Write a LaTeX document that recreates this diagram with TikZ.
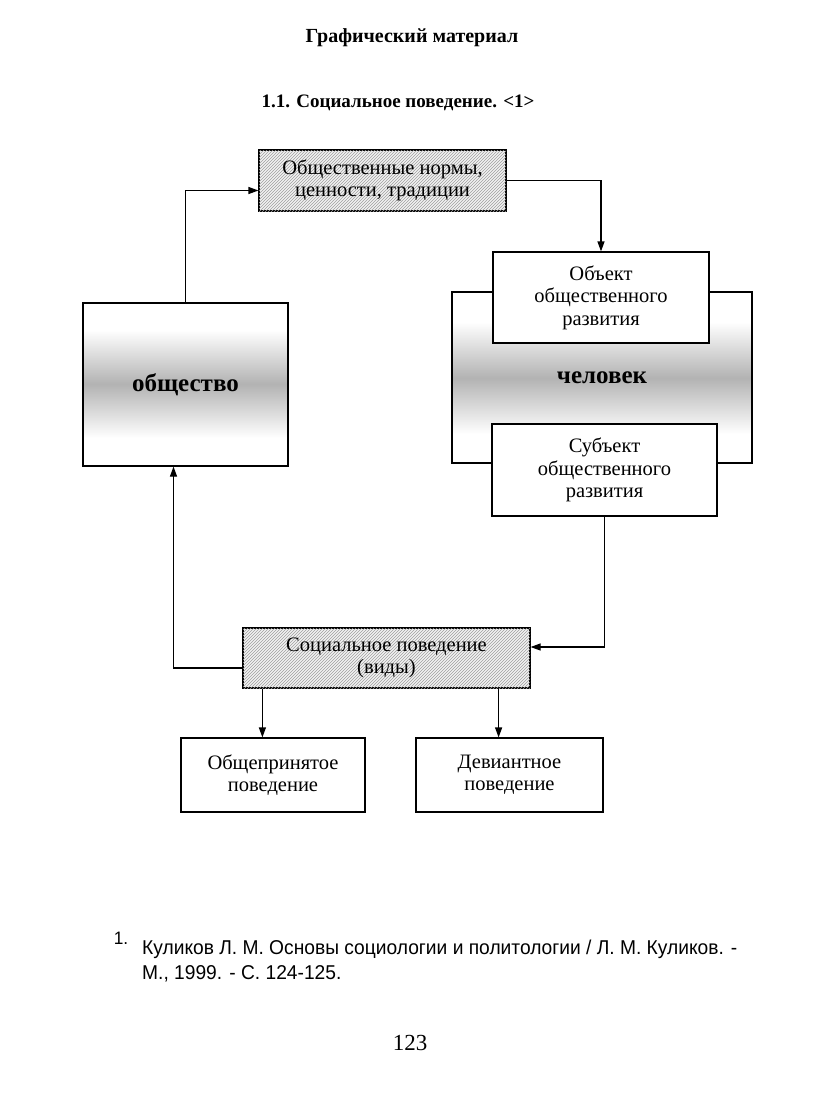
\documentclass[tikz,border=0pt]{standalone}
\usepackage{fontspec}
\setmainfont{Liberation Serif}
\newfontfamily\notefont[FakeStretch=0.96]{Liberation Sans}
\usetikzlibrary{arrows.meta,patterns,positioning}

\tikzset{
  blk/.style={draw, line width=1.2pt, fill=white, align=center, inner sep=0pt,
    font=\fontsize{20.5}{22.5}\selectfont},
  hatchbox/.style={blk, fill=gray!10, postaction={pattern=north east lines, pattern color=gray!75}},
  bigbox/.style={draw, line width=1.2pt, inner sep=0pt, font=\fontsize{25}{28}\selectfont\bfseries},
  band/.style={top color=white, bottom color=white, middle color=gray!60},
  conn/.style={-{Triangle[length=10pt,width=7pt]}, line width=1.2pt},
  heading/.style={font=\fontsize{20}{24}\selectfont\bfseries},
  note/.style={font=\notefont\fontsize{20}{25}\selectfont, align=left, anchor=north west, inner sep=0pt}
}

\begin{document}
\begin{tikzpicture}[x=1pt, y=-1pt]
  \useasboundingbox (0,0) rectangle (823,1098);

  % headings
  \node[heading] (title) at (412,38) {Графический материал};
  \node[heading, font=\fontsize{19}{24}\selectfont\bfseries] (sub) at (398,103) {1.1. Социальное поведение. <1>};

  % grey bands
  \shade[band] (84,330) rectangle (287,438);
  \shade[band] (453,322) rectangle (751,434);

  \node[bigbox, minimum width=205pt, minimum height=163pt] (soc1) at (185.5,384.5) {общество};
  \node[bigbox, minimum width=300pt, minimum height=171pt] (man) at (602,377.5) {человек};

  \node[hatchbox, minimum width=247pt, minimum height=61pt] (norms) at (382.5,180.5) {Общественные нормы,\\ценности, традиции};
  \node[blk, minimum width=216pt, minimum height=91pt] (obj) at (601,297.5) {Объект\\общественного\\развития};
  \node[blk, minimum width=225pt, minimum height=92pt] (subj) at (604.5,470) {Субъект\\общественного\\развития};

  \node[hatchbox, minimum width=287pt, minimum height=60pt] (beh) at (386.5,658) {Социальное поведение\\(виды)};
  \node[blk, minimum width=184pt, minimum height=74pt] (gen) at (273,775) {Общепринятое\\поведение};
  \node[blk, minimum width=187pt, minimum height=74pt] (dev) at (509.5,775) {Девиантное\\поведение};

  % connectors
  \draw[conn] (soc1.north) |- ([yshift=-10pt]norms.west);
  \draw[conn] (norms.east) -| (obj.north);
  \draw[conn] (subj.south) |- ([yshift=11pt]beh.east);
  \draw[conn] ([yshift=-10pt]beh.west) -| ([xshift=-12pt]soc1.south);
  \draw[conn] ([xshift=20pt]beh.south west) -- ([xshift=20pt]beh.south west |- gen.north);
  \draw[conn] ([xshift=-32pt]beh.south east) -- ([xshift=-32pt]beh.south east |- dev.north);

  % footnote
  \node[font=\notefont\fontsize{18}{20}\selectfont] (fnum) at (121,938) {1.};
  \node[note] (ref) at (142,940) {Куликов Л. М. Основы социологии и политологии / Л. М. Куликов. -\\М., 1999. - С. 124-125.};
  \node[font=\fontsize{23}{26}\selectfont] (page) at (410,1043) {123};
\end{tikzpicture}
\end{document}
